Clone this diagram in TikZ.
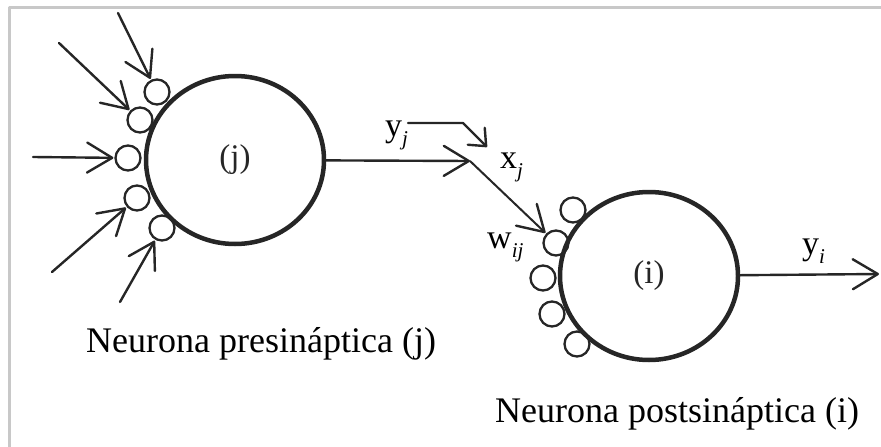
\documentclass[tikz,border=0pt]{standalone}
\usepackage{fontspec}
\setmainfont{Liberation Serif}
\usetikzlibrary{arrows.meta,shapes.geometric}
\definecolor{ink}{HTML}{262626}
\definecolor{framegray}{HTML}{C8C8C8}
\newcommand\lowidx[1]{\raisebox{-9pt}{\fontsize{21}{24}\selectfont\itshape #1}}
\tikzset{
  every picture/.style={line join=round, line cap=round},
  soma/.style={draw=ink, ellipse, line width=4.5pt, minimum width=178pt, minimum height=168pt, inner sep=0pt, font=\fontsize{33}{36}\selectfont, text=ink},
  syn/.style={draw=ink, circle, line width=2.3pt, minimum size=25pt, inner sep=0pt},
  axon/.style={draw=ink, line width=2.4pt, shorten >=1pt, -{Straight Barb[length=25pt,width=30pt,line width=2.4pt,round]}},
  twig/.style={draw=ink, line width=2.4pt, -{Straight Barb[length=14pt,width=24pt,line width=2.4pt,round]}},
  lbl/.style={anchor=base west, inner sep=0pt, font=\fontsize{34}{36}\selectfont, text=black},
  caption/.style={anchor=base west, inner sep=0pt, font=\fontsize{36}{40}\selectfont, text=black},
}

\begin{document}
\begin{tikzpicture}[x=1pt,y=-1pt]
\useasboundingbox (0,0) rectangle (881,447);
\draw[framegray, line width=3pt, line cap=butt] (9,447) -- (9,7) -- (881,7);

% presynaptic neuron
\node[soma] (somaj) at (235,160) {(j)};
\node[syn] (sj1) at (157,92) {};
\node[syn] (sj2) at (140,120) {};
\node[syn] (sj3) at (128,158) {};
\node[syn] (sj4) at (137,198) {};
\node[syn] (sj5) at (162,228) {};
\coordinate (in1) at (118,13);
\coordinate (in2) at (59,43);
\coordinate (in3) at (33,157);
\coordinate (in4) at (52,272);
\coordinate (in5) at (120,302);
\draw[axon] (in1) -- (sj1);
\draw[axon] (in2) -- (sj2);
\draw[axon] (in3) -- (sj3);
\draw[axon] (in4) -- (sj4);
\draw[axon] (in5) -- (sj5);

% postsynaptic neuron
\node[soma] (somai) at (649,276) {(i)};
\node[syn] (si1) at (573,210) {};
\node[syn] (si2) at (556,243) {};
\node[syn] (si3) at (543,278) {};
\node[syn] (si4) at (552,314) {};
\node[syn] (si5) at (577,344) {};

% connection j -> i
\coordinate (junc) at (470,161);
\draw[axon, shorten >=0pt] (somaj) -- (junc);
\draw[axon, line width=2pt] (junc) -- (si2);
\coordinate (bend0) at (408,123);
\coordinate (bend1) at (463,123);
\coordinate (bend2) at (487,147);
\draw[twig] (bend0) -- (bend1) -- (bend2);
\coordinate (yout) at (879,274);
\draw[axon, shorten >=0pt] (somai) -- (yout);

% labels
\node[lbl] (yj) at (385,136) {y\lowidx{j}};
\node[lbl] (xj) at (500,168) {x\lowidx{j}};
\node[lbl] (wij) at (487,248) {w\lowidx{ij}};
\node[lbl] (yi) at (802,254) {y\lowidx{i}};
\node[caption] (capj) at (86,352) {Neurona presináptica (j)};
\node[caption] (capi) at (495,422) {Neurona postsináptica (i)};
\end{tikzpicture}
\end{document}
